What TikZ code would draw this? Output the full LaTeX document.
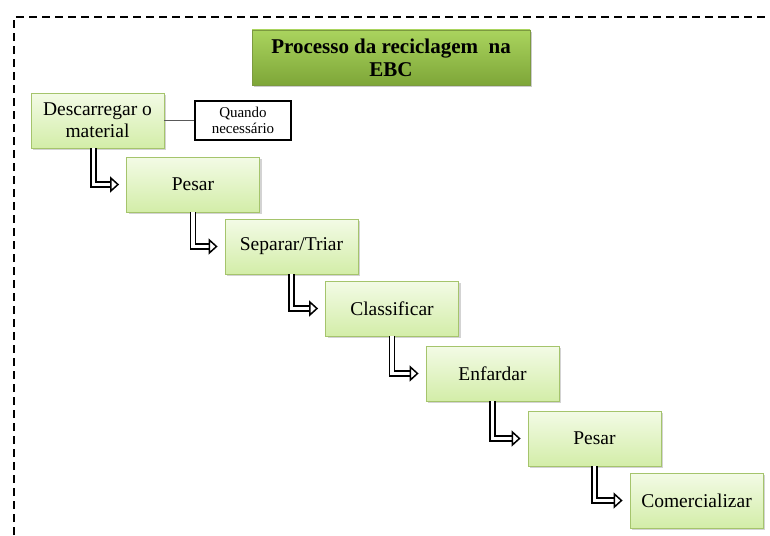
\documentclass[tikz,border=0pt]{standalone}
\usepackage{fontspec}
\setmainfont{Liberation Serif}
\usepackage{xcolor}
\usetikzlibrary{arrows.meta,shadows}

\definecolor{stepfillA}{HTML}{F3FBE6}
\definecolor{stepfillB}{HTML}{D3EDA8}
\definecolor{stepline}{HTML}{A5C46C}
\definecolor{titletop}{HTML}{AAD45E}
\definecolor{titlebot}{HTML}{7EA638}
\definecolor{titleline}{HTML}{7C9A40}

\tikzset{
  stepbox/.style={rectangle, draw=stepline, line width=0.8pt, top color=stepfillA, bottom color=stepfillB,
    minimum width=133pt, minimum height=55pt, inner sep=2pt, align=center,
    font=\fontsize{19.5}{22}\selectfont, drop shadow={shadow xshift=2pt, shadow yshift=-2pt, opacity=0.35}},
  titlebox/.style={rectangle, draw=titleline, line width=0.8pt, top color=titletop, bottom color=titlebot,
    minimum width=278pt, minimum height=55pt, inner sep=2pt, align=center,
    font=\fontsize{21}{23}\selectfont\bfseries, drop shadow={shadow xshift=2pt, shadow yshift=-2pt, opacity=0.4}},
  notebox/.style={rectangle, draw=black, line width=2pt, fill=white, minimum width=96pt, minimum height=39pt,
    inner sep=1pt, align=center, font=\fontsize{15}{16}\selectfont},
  flow/.style={double, double distance=3.2pt, line width=1.5pt, -{Triangle[open, length=9pt, width=16pt]}}
}

\begin{document}
\begin{tikzpicture}[x=1pt, y=-1pt]
  \useasboundingbox (0,0) rectangle (770,535);
  \draw[line width=1.6pt, dash pattern=on 8pt off 5pt] (14,535) -- (14,17) -- (770,17);

  \node[titlebox] (title) at (391,57.5) {Processo da reciclagem\ \ na\\EBC};

  \node[stepbox] (unload) at (97.5,120.5) {Descarregar o\\material};
  \node[notebox] (note) at (243,120.5) {Quando\\necessário};
  \node[stepbox] (weigh) at (193,184.5) {Pesar};
  \node[stepbox] (sort) at (291.5,246.5) {Separar/Triar};
  \node[stepbox] (classify) at (392,308.5) {Classificar};
  \node[stepbox] (bale) at (492.5,373.5) {Enfardar};
  \node[stepbox] (reweigh) at (594.5,438.5) {Pesar};
  \node[stepbox] (sell) at (696.5,500.5) {Comercializar};

  \draw[gray!70!black, line width=0.8pt] (unload) -- (note);

  % steps
  \draw[flow] ([xshift=-4pt]unload.south) |- ([xshift=-7pt]weigh.west);
  \draw[flow] (weigh.south) |- ([xshift=-7pt]sort.west);
  \draw[flow] (sort.south) |- ([xshift=-7pt]classify.west);
  \draw[flow] (classify.south) |- ([xshift=-7pt]bale.west);
  \draw[flow] (bale.south) |- ([xshift=-7pt]reweigh.west);
  \draw[flow] (reweigh.south) |- ([xshift=-7pt]sell.west);
\end{tikzpicture}
\end{document}
